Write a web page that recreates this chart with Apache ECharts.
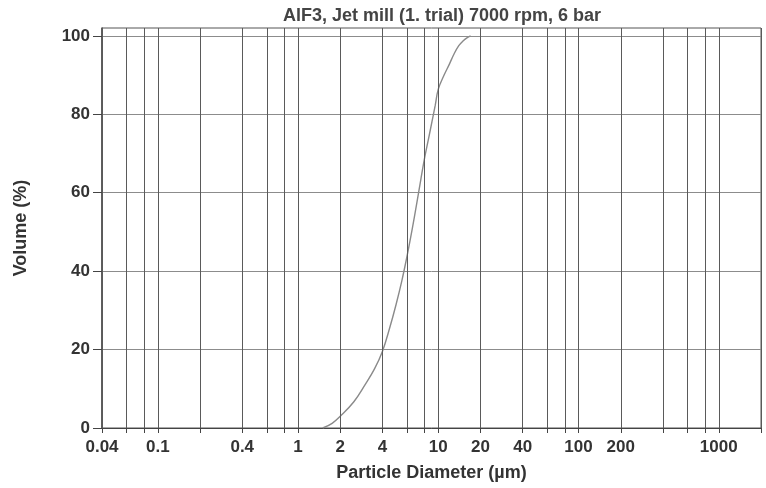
<!DOCTYPE html>
<html>
<head>
<meta charset="utf-8">
<script src="https://cdn.jsdelivr.net/npm/echarts@6/dist/echarts.min.js"></script>
<style>
  html, body { margin: 0; padding: 0; background: #fff; }
  #chart { width: 766px; height: 488px; }
</style>
</head>
<body>
<div id="chart"></div>
<script>
// particle size (µm) and cumulative volume (%)
const diameters = [1.5, 1.75, 2, 2.5, 3, 3.5, 4, 4.5, 5, 5.5, 6, 6.5, 7, 7.5, 8, 8.5, 9, 9.5, 10, 11, 12, 13, 14, 15, 16, 17];
const volumes   = [0, 1.2, 3, 6.7, 11, 15, 19.6, 25.5, 31.5, 37.6, 44, 50.5, 57, 63.3, 69, 73.6, 78, 82.2, 86.4, 90, 92.8, 95.5, 97.5, 98.7, 99.5, 100];

// vertical grid lines, ticks and labelled ticks on the log axis
const xGridValues = [0.04, 0.06, 0.08, 0.1, 0.2, 0.4, 0.6, 0.8, 1, 2, 4, 6, 8, 10, 20, 40, 60, 80, 100, 200, 400, 600, 800, 1000, 2000];
const xLabelValues = [0.04, 0.1, 0.4, 1, 2, 4, 10, 20, 40, 100, 200, 1000];
const yTicks = [0, 20, 40, 60, 80, 100];

const fontFamily = '"Liberation Sans", Arial, sans-serif';
const textColor = '#333';

var myChart = echarts.init(document.getElementById('chart'));

var curve = diameters.map((d, i) => [d, volumes[i]]);

var option = {
  backgroundColor: '#fff',
  animation: false,
  title: {
    text: 'AlF3, Jet mill (1. trial) 7000 rpm, 6 bar',
    left: 278,
    top: 2,
    textStyle: {
      fontFamily: fontFamily,
      fontSize: 18,
      fontWeight: 'bold',
      color: '#444'
    }
  },
  grid: {
    left: 102,
    right: 5,
    top: 28,
    bottom: 60,
    show: true,
    borderColor: '#555',
    borderWidth: 1
  },
  xAxis: {
    type: 'log',
    min: 0.04,
    max: 2000,
    name: 'Particle Diameter (µm)',
    nameLocation: 'middle',
    nameGap: 36,
    nameTextStyle: {
      fontFamily: fontFamily,
      fontSize: 18,
      fontWeight: 'bold',
      color: textColor
    },
    axisLine: { lineStyle: { color: '#444', width: 1 } },
    axisTick: {
      show: true,
      length: 5,
      customValues: xGridValues,
      lineStyle: { color: '#444' }
    },
    axisLabel: {
      customValues: xLabelValues,
      margin: 11,
      fontFamily: fontFamily,
      fontSize: 17,
      fontWeight: 'bold',
      color: textColor,
      formatter: v => String(+Number(v).toPrecision(6))
    },
    splitLine: { show: false }
  },
  yAxis: {
    type: 'value',
    min: 0,
    max: 102,
    interval: 20,
    name: 'Volume (%)',
    nameLocation: 'middle',
    nameGap: 72,
    nameTextStyle: {
      fontFamily: fontFamily,
      fontSize: 18,
      fontWeight: 'bold',
      color: textColor
    },
    axisLine: { show: true, lineStyle: { color: '#444', width: 1.5 } },
    axisTick: {
      show: true,
      length: 9,
      customValues: yTicks,
      lineStyle: { color: '#444' }
    },
    axisLabel: {
      customValues: yTicks,
      margin: 12,
      fontFamily: fontFamily,
      fontSize: 17,
      fontWeight: 'bold',
      color: textColor
    },
    splitLine: { show: true, lineStyle: { color: '#8c8c8c', width: 1 } }
  },
  series: [
    {
      type: 'line',
      data: curve,
      smooth: 0.4,
      showSymbol: false,
      lineStyle: { color: '#8a8a8a', width: 1.4 },
      z: 3,
      markLine: {
        silent: true,
        symbol: 'none',
        label: { show: false },
        lineStyle: { type: 'solid', color: '#5a5a5a', width: 1 },
        data: xGridValues.map(v => ({ xAxis: v }))
      }
    }
  ]
};
option && myChart.setOption(option);
</script>
</body>
</html>
